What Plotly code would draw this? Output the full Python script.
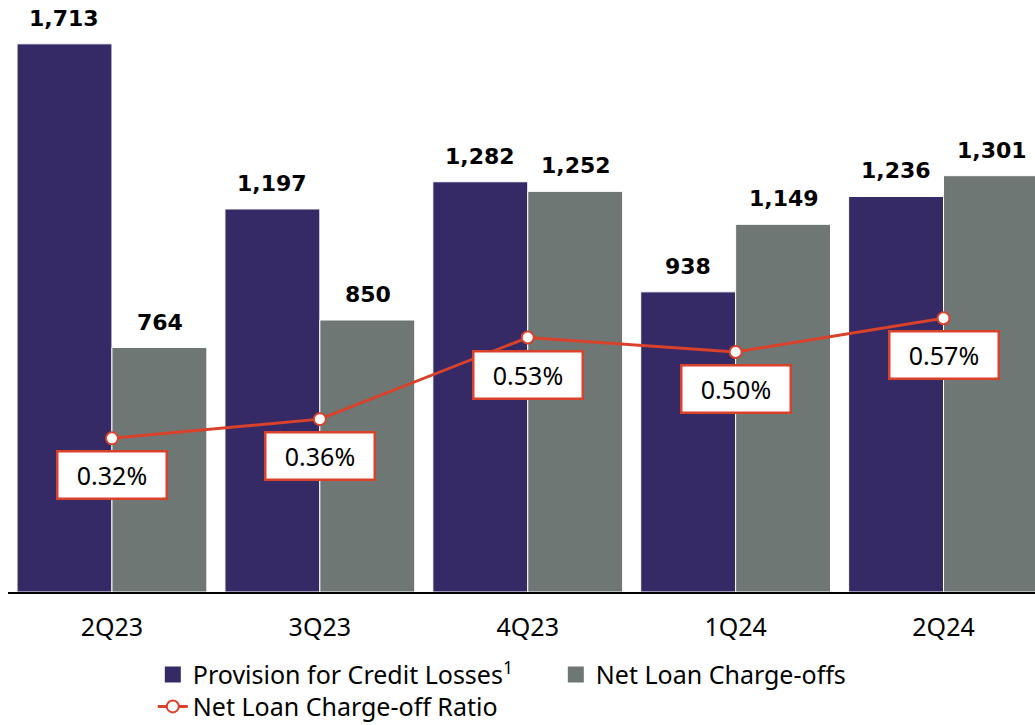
import plotly.graph_objects as go

quarters = ["2Q23", "3Q23", "4Q23", "1Q24", "2Q24"]
provision = [1713, 1197, 1282, 938, 1236]
charge_offs = [764, 850, 1252, 1149, 1301]
nco_ratio = [0.32, 0.36, 0.53, 0.50, 0.57]

PURPLE = "#352a66"
GRAY = "#6e7774"
RED = "#d9412b"
REG_FONT = "Noto Sans"
BOLD_FONT = "DejaVu Sans"

fig = go.Figure()

fig.add_trace(go.Bar(
    x=quarters, y=provision, name="Provision for Credit Losses<sup>1</sup>",
    marker=dict(color=PURPLE, line=dict(color="white", width=1)),
    showlegend=False,
))
fig.add_trace(go.Bar(
    x=quarters, y=charge_offs, name="Net Loan Charge-offs",
    marker=dict(color=GRAY, line=dict(color="white", width=1)),
    showlegend=False,
))

# legend entries with bigger square swatches
for name, col in [("Provision for Credit Losses<sup>1</sup>", PURPLE),
                  ("Net Loan Charge-offs", GRAY)]:
    fig.add_trace(go.Scatter(
        x=[None], y=[None], name=name, mode="markers",
        marker=dict(symbol="square", size=16, color=col),
        legend="legend",
    ))

fig.add_trace(go.Scatter(
    x=quarters, y=nco_ratio, name="Net Loan Charge-off Ratio", yaxis="y2",
    mode="lines+markers",
    line=dict(color=RED, width=3),
    marker=dict(size=12, color="white", line=dict(color=RED, width=2)),
    legend="legend2",
))

# bar value labels
for q, v in zip(quarters, provision):
    fig.add_annotation(x=q, y=v, text=f"<b>{v:,}</b>", showarrow=False,
                       xshift=-48, yshift=11, yanchor="bottom",
                       font=dict(family=BOLD_FONT, size=22, color="black"))
for q, v in zip(quarters, charge_offs):
    fig.add_annotation(x=q, y=v, text=f"<b>{v:,}</b>", showarrow=False,
                       xshift=48, yshift=11, yanchor="bottom",
                       font=dict(family=BOLD_FONT, size=22, color="black"))

# ratio boxes
for q, v in zip(quarters, nco_ratio):
    fig.add_annotation(x=q, y=v, yref="y2", text=f"{v:.2f}%", showarrow=False,
                       yshift=-37, width=105, height=43,
                       bgcolor="white", bordercolor=RED, borderwidth=2.5,
                       font=dict(family=REG_FONT, size=25, color="black"))

fig.update_layout(
    width=1035, height=725,
    margin=dict(l=8, r=0, t=0, b=133),
    plot_bgcolor="white", paper_bgcolor="white",
    barmode="group", bargap=0.087, bargroupgap=0,
    font=dict(family=REG_FONT, color="black"),
    xaxis=dict(range=[-0.5, 4.44], showline=True, linecolor="black", linewidth=2,
               ticks="", tickfont=dict(size=25), ticklabelstandoff=12,
               showgrid=False),
    yaxis=dict(range=[0, 1850], visible=False, showgrid=False),
    yaxis2=dict(range=[0, 1.233], overlaying="y", visible=False, showgrid=False),
    legend=dict(orientation="h", x=0.141, y=0.101, xref="paper", yref="container",
                xanchor="left", yanchor="top",
                font=dict(size=25), entrywidth=358, entrywidthmode="pixels"),
    legend2=dict(orientation="h", x=0.141, y=0.057, xref="paper", yref="container",
                 xanchor="left", yanchor="top",
                 font=dict(size=25)),
)

fig.write_html("out.html", config={"displayModeBar": False},
               post_script="document.body.style.margin='0';")
